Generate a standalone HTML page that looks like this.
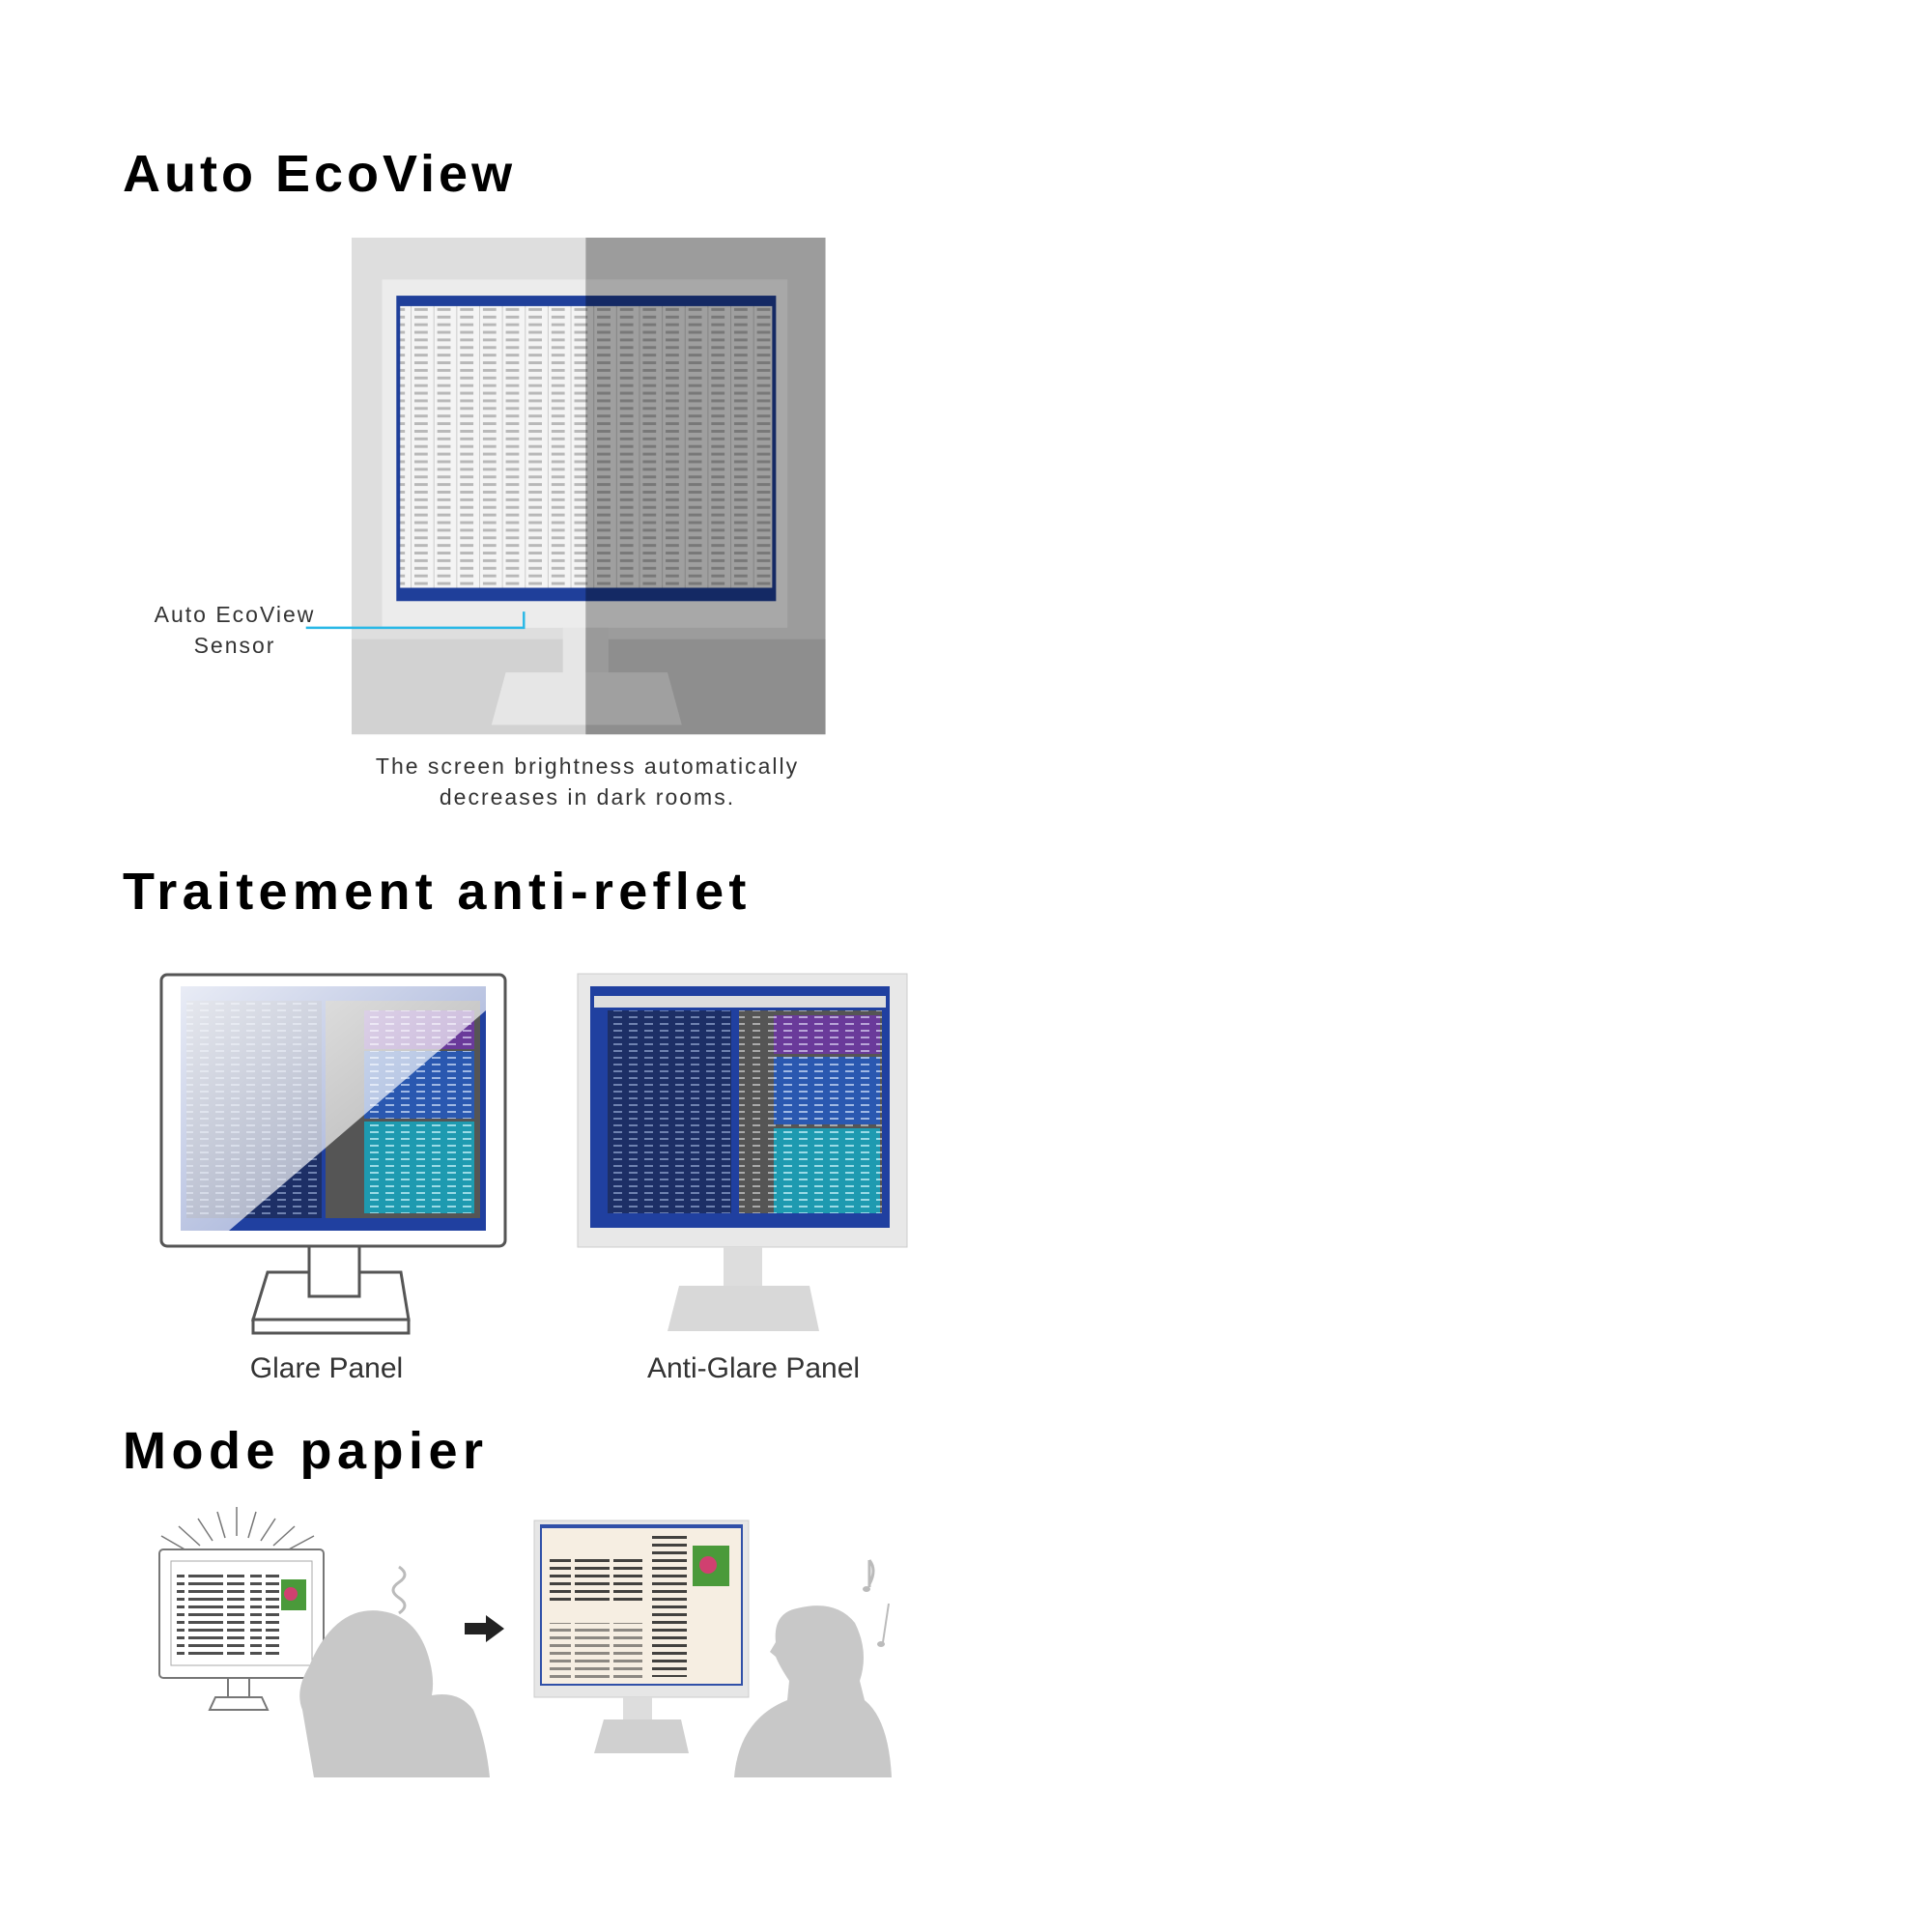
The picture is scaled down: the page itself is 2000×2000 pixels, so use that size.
<!DOCTYPE html>
<html><head><meta charset="utf-8"><style>
html,body{margin:0;padding:0;background:#fff;}
body{width:2000px;height:2000px;overflow:hidden;position:relative;}
</style></head><body>
<svg width="2000" height="2000" viewBox="0 0 2000 2000" xmlns="http://www.w3.org/2000/svg" style="position:absolute;left:0;top:0">
<defs>
<pattern id="sheet" width="24" height="8" patternUnits="userSpaceOnUse">
<rect width="24" height="8" fill="#f4f4f4"/>
<rect x="2" y="2" width="14" height="3" fill="#b8b8b8"/>
<rect x="22" y="0" width="1" height="8" fill="#ccc"/>
</pattern>
<pattern id="dark" width="16" height="7" patternUnits="userSpaceOnUse">
<rect width="16" height="7" fill="#1d2f66"/>
<rect x="2" y="2" width="9" height="2" fill="#6f82b0"/>
</pattern>
<pattern id="purp" width="16" height="7" patternUnits="userSpaceOnUse">
<rect width="16" height="7" fill="#6a3a9a"/><rect x="2" y="2" width="9" height="2" fill="#b8a4d8"/></pattern>
<pattern id="blue" width="16" height="7" patternUnits="userSpaceOnUse">
<rect width="16" height="7" fill="#2a58b0"/><rect x="2" y="2" width="9" height="2" fill="#9fb8e4"/></pattern>
<pattern id="teal" width="16" height="7" patternUnits="userSpaceOnUse">
<rect width="16" height="7" fill="#1e9ab0"/><rect x="2" y="2" width="9" height="2" fill="#9adbe6"/></pattern>
<pattern id="gray" width="16" height="7" patternUnits="userSpaceOnUse">
<rect width="16" height="7" fill="#555"/><rect x="2" y="2" width="8" height="2" fill="#aaa"/></pattern>
<pattern id="txt" width="40" height="8" patternUnits="userSpaceOnUse">
<rect x="0" y="2" width="36" height="3" fill="#222"/></pattern>
<linearGradient id="glare" x1="0" y1="0" x2="1" y2="1"><stop offset="0" stop-color="#fff" stop-opacity="0.9"/><stop offset="1" stop-color="#fff" stop-opacity="0.5"/></linearGradient>
</defs>

<g font-family="'Liberation Sans',sans-serif" font-weight="bold" fill="#000" font-size="54">
<text x="127" y="198" letter-spacing="4">Auto EcoView</text>
<text x="127" y="941" letter-spacing="5.3">Traitement anti-reflet</text>
<text x="127" y="1520" letter-spacing="5.5">Mode papier</text>
</g>

<g transform="translate(-4,-2) scale(0.985)" transform-origin="368 248">
<rect x="368" y="248" width="246" height="522" fill="#dedede"/>
<rect x="614" y="248" width="252" height="522" fill="#9c9c9c"/>
<rect x="368" y="670" width="246" height="100" fill="#d2d2d2"/>
<rect x="614" y="670" width="252" height="100" fill="#8e8e8e"/>
<rect x="400" y="292" width="214" height="366" fill="#ececec"/>
<rect x="614" y="292" width="212" height="366" fill="#a8a8a8"/>
<rect x="415" y="309" width="399" height="321" fill="#1f3f9a"/>
<rect x="419" y="320" width="391" height="296" fill="url(#sheet)"/>
<rect x="614" y="309" width="200" height="321" fill="#000" opacity="0.35"/>
<rect x="590" y="658" width="24" height="60" fill="#e6e6e6"/>
<rect x="614" y="658" width="24" height="60" fill="#9a9a9a"/>
<polygon points="530,705 614,705 614,760 515,760" fill="#e6e6e6"/>
<polygon points="614,705 700,705 715,760 614,760" fill="#a0a0a0"/>
<polyline points="320,658 549,658 549,641" fill="none" stroke="#29b8e6" stroke-width="2.5"/>
</g>
<g font-family="'Liberation Sans',sans-serif" fill="#333" font-size="23" letter-spacing="2" text-anchor="middle">
<text x="243" y="644">Auto EcoView</text>
<text x="243" y="676">Sensor</text>
<text x="608" y="801">The screen brightness automatically</text>
<text x="608" y="833">decreases in dark rooms.</text>
</g>

<g transform="translate(-3,-14)">
<rect x="170" y="1023" width="356" height="281" rx="6" fill="#fff" stroke="#555" stroke-width="3"/>
<rect x="190" y="1035" width="316" height="253" fill="#2040a0"/>
<rect x="196" y="1050" width="140" height="225" fill="url(#dark)"/>
<rect x="340" y="1050" width="160" height="225" fill="#555"/>
<rect x="380" y="1060" width="114" height="40" fill="url(#purp)"/>
<rect x="380" y="1102" width="114" height="70" fill="url(#blue)"/>
<rect x="380" y="1175" width="114" height="95" fill="url(#teal)"/>
<polygon points="190,1035 506,1035 506,1060 240,1288 190,1288" fill="url(#glare)"/>
<rect x="323" y="1304" width="52" height="52" fill="#fff" stroke="#555" stroke-width="3"/>
<polygon points="280,1331 323,1331 323,1356 375,1356 375,1331 418,1331 426,1380 265,1380" fill="#fff" stroke="#555" stroke-width="3"/>
<rect x="265" y="1380" width="161" height="14" fill="#fff" stroke="#555" stroke-width="3"/>

<g transform="translate(-4,0)">
<rect x="605" y="1022" width="341" height="283" fill="#e8e8e8" stroke="#ccc"/>
<rect x="618" y="1035" width="310" height="250" fill="#2040a0"/>
<rect x="622" y="1045" width="302" height="12" fill="#ddd"/>
<rect x="636" y="1060" width="128" height="210" fill="url(#dark)"/>
<rect x="772" y="1060" width="148" height="210" fill="url(#gray)"/>
<rect x="808" y="1065" width="110" height="40" fill="url(#purp)"/>
<rect x="808" y="1108" width="110" height="70" fill="url(#blue)"/>
<rect x="808" y="1182" width="110" height="88" fill="url(#teal)"/>
<rect x="756" y="1305" width="40" height="50" fill="#ddd"/>
<polygon points="710,1345 845,1345 855,1392 698,1392" fill="#d8d8d8"/>
</g>
</g>

<g font-family="'Liberation Sans',sans-serif" fill="#333" font-size="30" text-anchor="middle">
<text x="338" y="1426">Glare Panel</text>
<text x="780" y="1426">Anti-Glare Panel</text>
</g>

<g transform="translate(-5,-20)">
<g stroke="#777" stroke-width="1.5">
<line x1="250" y1="1580" x2="250" y2="1610"/><line x1="230" y1="1585" x2="238" y2="1612"/><line x1="270" y1="1585" x2="262" y2="1612"/>
<line x1="210" y1="1592" x2="225" y2="1615"/><line x1="290" y1="1592" x2="275" y2="1615"/>
<line x1="190" y1="1600" x2="212" y2="1620"/><line x1="310" y1="1600" x2="288" y2="1620"/>
<line x1="172" y1="1610" x2="198" y2="1625"/><line x1="330" y1="1610" x2="302" y2="1625"/>
</g>
<rect x="170" y="1624" width="170" height="133" rx="4" fill="#fff" stroke="#777" stroke-width="2"/>
<rect x="182" y="1636" width="146" height="108" fill="#fff" stroke="#aaa"/>
<rect x="188" y="1650" width="70" height="88" fill="url(#txt)" opacity="0.8"/>
<rect x="264" y="1646" width="30" height="90" fill="url(#txt)" opacity="0.8"/>
<rect x="296" y="1655" width="26" height="32" fill="#4a9a3a"/><circle cx="306" cy="1670" r="7" fill="#d04070"/>
<rect x="241" y="1757" width="22" height="20" fill="#fff" stroke="#777" stroke-width="2"/>
<polygon points="228,1777 276,1777 282,1790 222,1790" fill="#fff" stroke="#777" stroke-width="2"/>
<path d="M330 1860 L318 1790 Q310 1770 325 1745 Q335 1720 350 1705 Q375 1680 410 1690 Q440 1700 450 1740 Q455 1760 452 1775 Q480 1770 495 1790 Q508 1820 512 1860 Z" fill="#c8c8c8"/>
<path d="M418 1690 q12 -8 0 -16 q-12 -8 0 -16 q12 -8 0 -16" fill="none" stroke="#bbb" stroke-width="3"/>
<polygon points="486,1700 508,1700 508,1692 527,1706 508,1720 508,1712 486,1712" fill="#222"/>

<rect x="558" y="1594" width="222" height="183" fill="#e6e6e6" stroke="#ccc"/>
<rect x="564" y="1598" width="210" height="167" fill="#3050a8"/>
<rect x="566" y="1602" width="206" height="161" fill="#f6eee2"/>
<rect x="574" y="1632" width="96" height="50" fill="url(#txt)" opacity="0.85"/>
<rect x="574" y="1700" width="96" height="60" fill="url(#txt)" opacity="0.5"/>
<rect x="676" y="1606" width="44" height="150" fill="url(#txt)" opacity="0.85"/>
<rect x="722" y="1620" width="38" height="42" fill="#4a9a3a"/><circle cx="738" cy="1640" r="9" fill="#d04070"/>
<rect x="650" y="1777" width="30" height="35" fill="#ddd"/>
<polygon points="630,1800 710,1800 718,1835 620,1835" fill="#d0d0d0"/>
<path d="M765 1860 Q770 1800 820 1780 L822 1760 Q812 1745 808 1735 L802 1730 L808 1720 Q805 1690 830 1685 Q870 1675 890 1700 Q905 1730 895 1760 L900 1780 Q925 1800 928 1860 Z" fill="#c8c8c8"/>
<path d="M905 1635 q8 10 0 25 M905 1635 l0 28" fill="none" stroke="#bbb" stroke-width="3"/>
<ellipse cx="902" cy="1665" rx="4" ry="3" fill="#bbb"/>
<path d="M925 1680 l-6 40" stroke="#bbb" stroke-width="2"/>
<ellipse cx="917" cy="1722" rx="4" ry="3" fill="#bbb"/>
</g>
</svg>
</body></html>
